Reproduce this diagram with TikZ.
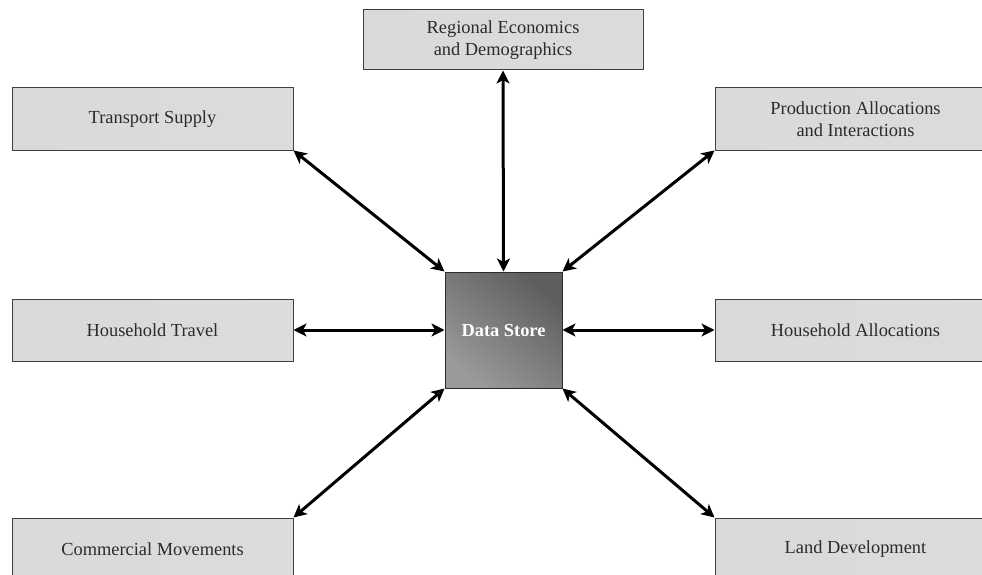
\documentclass[tikz,border=0pt]{standalone}
\usepackage{fontspec}
\setmainfont{Liberation Serif}
\usetikzlibrary{arrows.meta}
\definecolor{panelL}{HTML}{D9D9D9}
\definecolor{panelM}{HTML}{EDEDED}
\definecolor{panelR}{HTML}{DCDCDC}
\definecolor{hubLight}{HTML}{9A9A9A}
\definecolor{hubDark}{HTML}{5E5E5E}
\definecolor{ink}{HTML}{2B2B2B}

\begin{document}
\begin{tikzpicture}[x=1pt, y=-1pt,
  panel/.style={draw=ink!90, line width=1pt, rectangle, minimum width=281pt,
    minimum height=62pt, left color=panelL, middle color=panelM,
    right color=panelR, text=ink, align=center,
    font=\fontsize{18.4}{22}\selectfont, inner sep=0pt},
  hub/.style={draw=ink, line width=1pt, rectangle, minimum width=117pt,
    minimum height=116pt, top color=hubDark, bottom color=hubLight,
    shading angle=-40, text=white,
    font=\fontsize{18.4}{22}\selectfont\bfseries, inner sep=0pt},
  link/.style={line width=3pt, black,
    {Stealth[length=13pt, width=13pt, inset=3.5pt]}-{Stealth[length=13pt, width=13pt, inset=3.5pt]}}]
  \useasboundingbox (0,0) rectangle (982,575);
  \clip (0,0) rectangle (982,575);

  \node[hub] (ds) at (503.5,330) {Data Store};
  \node[panel, minimum width=280pt, minimum height=60pt] (reg) at (503,40)
    {Regional Economics\\and Demographics};
  \node[panel] (ts) at (152.5,119) {Transport Supply};
  \node[panel] (prod) at (855.5,119) {Production Allocations\\and Interactions};
  \node[panel] (hht) at (152.5,330) {Household Travel};
  \node[panel] (hha) at (855.5,330) {Household Allocations};
  \node[panel] (com) at (152.5,549) {Commercial Movements};
  \node[panel] (land) at (855.5,549) {Land Development};

  \foreach \a/\b in {reg.south/ds.north, ts.south east/ds.north west,
      prod.south west/ds.north east, hht.east/ds.west, hha.west/ds.east,
      com.north east/ds.south west, land.north west/ds.south east}
    \draw[link] (\a) -- (\b);
\end{tikzpicture}
\end{document}
